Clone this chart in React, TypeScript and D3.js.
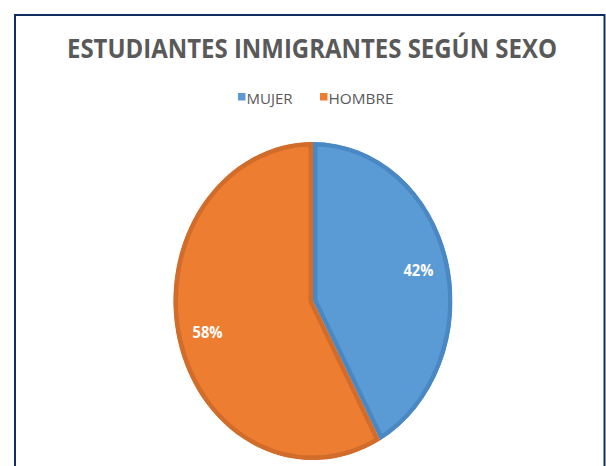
import React from 'react';
import * as d3 from 'd3';

const categories = ['MUJER', 'HOMBRE'];
const shares = [42, 58];
const fills = ['#5B9BD5', '#ED7D31'];
const edges = ['#4A88C4', '#D26C2B'];
const chartTitle = 'ESTUDIANTES INMIGRANTES SEGÚN SEXO';

const W = 606, H = 466;

export default function App() {
  const cx = 313, cy = 301, rx = 139.5, ry = 159;

  const pie = d3.pie<number>().sort(null).value(d => d);
  const arcs = pie(shares);
  const arc = d3.arc<d3.PieArcDatum<number>>().innerRadius(0).outerRadius(1);

  // label positions, read along the unit circle then stretched
  const labelArc = d3.arc<d3.PieArcDatum<number>>().innerRadius(0.78).outerRadius(0.78);

  const legendX = d3.scalePoint<string>().domain(categories).range([238, 320]);

  return (
    <svg width={W} height={H} style={{ position: 'absolute', left: 0, top: 0, background: '#fff' }}>
      <rect x={15} y={15} width={589.5} height={520} fill="#fff" stroke="#102D63" strokeWidth={2} />
      <text x={312} y={58} textAnchor="middle" fontFamily="'Open Sans', sans-serif" fontWeight={700}
        fontSize={26} fill="#595959" textLength={490} lengthAdjust="spacingAndGlyphs">{chartTitle}</text>

      {categories.map((c, i) => (
        <g key={c} transform={`translate(${legendX(c)},93)`}>
          <rect width={7.5} height={7.5} fill={fills[i]} />
          <text x={8.5} y={11} fontFamily="'Open Sans', sans-serif" fontSize={14} fill="#595959"
            textLength={c === 'MUJER' ? 46 : 65} lengthAdjust="spacingAndGlyphs">{c}</text>
        </g>
      ))}

      <defs>
        {arcs.map((a, i) => (
          <clipPath id={`clip${i}`} key={i}>
            <path d={arc(a) || ''} />
          </clipPath>
        ))}
      </defs>
      <g transform={`translate(${cx},${cy}) scale(${rx},${ry})`}>
        {arcs.map((a, i) => (
          <path key={i} d={arc(a) || ''} fill={fills[i]} stroke={edges[i]} strokeWidth={9}
            vectorEffect="non-scaling-stroke" clipPath={`url(#clip${i})`} />
        ))}
      </g>
      {arcs.map((a, i) => {
        const [lx, ly] = labelArc.centroid(a);
        return (
          <text key={i} x={cx + lx * rx} y={cy + ly * ry} dy="0.36em" textAnchor="middle"
            fontFamily="'Open Sans', sans-serif" fontWeight={700} fontSize={16} fill="#fff"
            textLength={30} lengthAdjust="spacingAndGlyphs">
            {`${shares[i]}%`}
          </text>
        );
      })}
    </svg>
  );
}
